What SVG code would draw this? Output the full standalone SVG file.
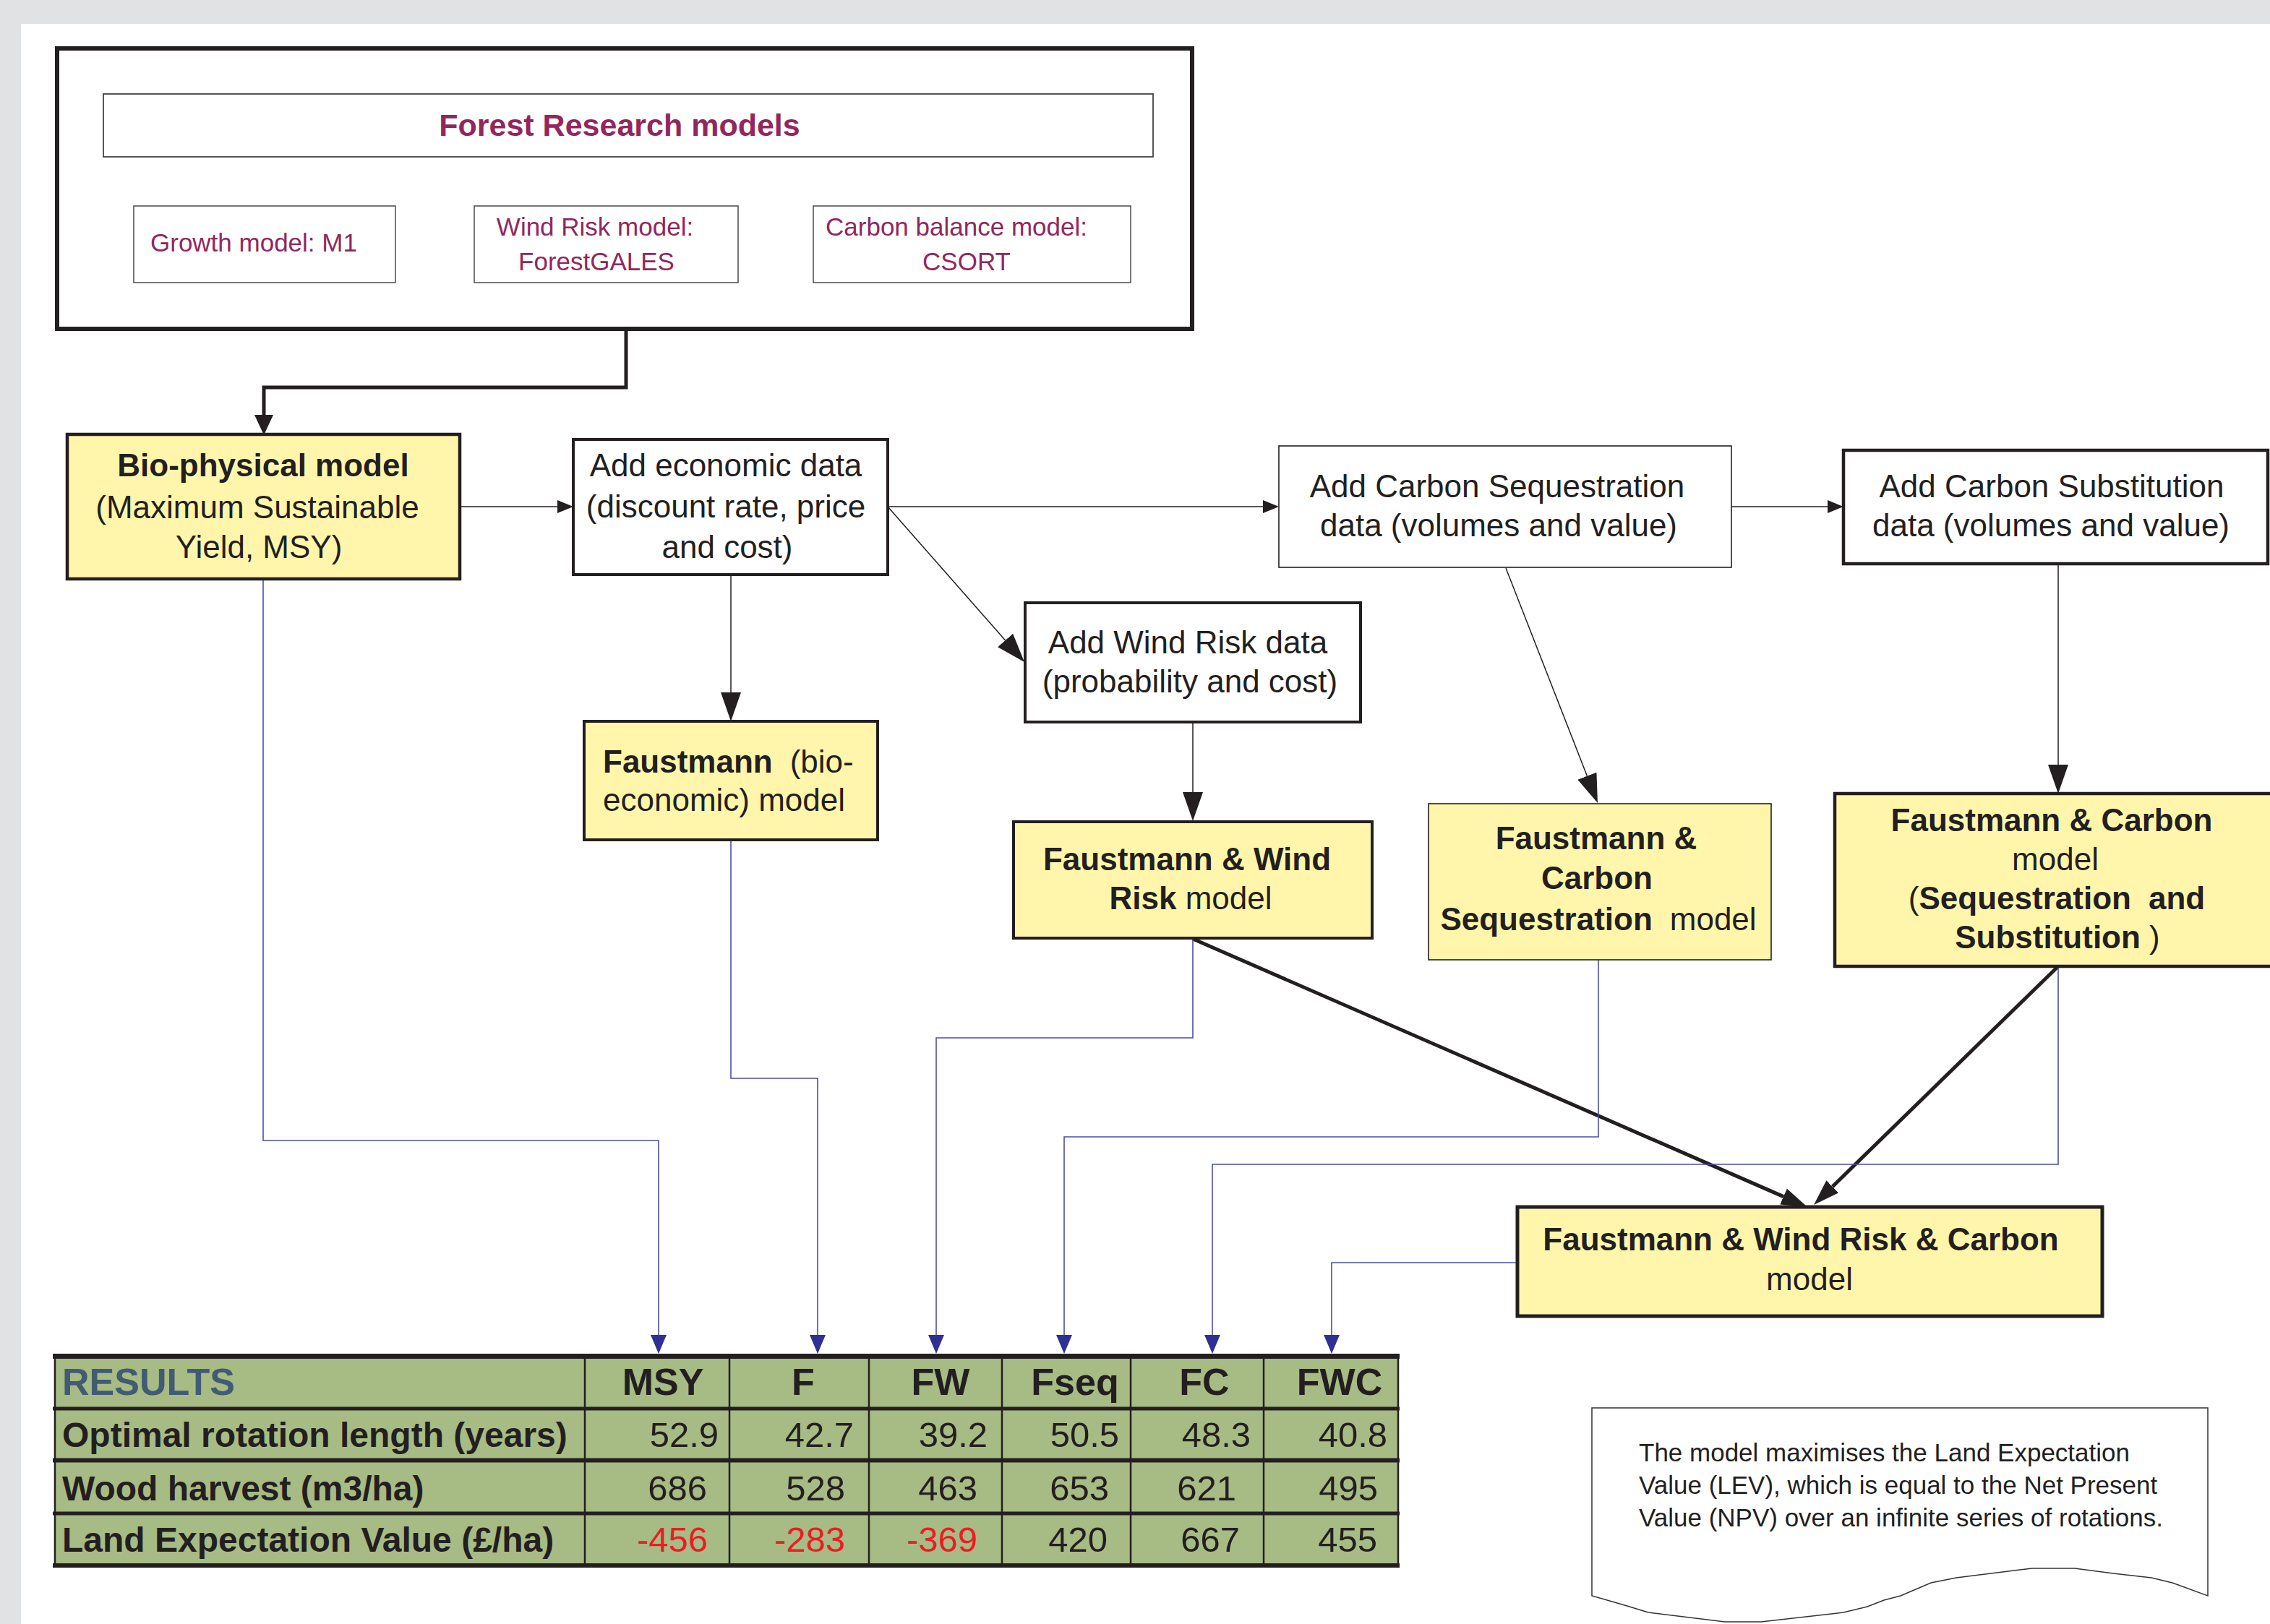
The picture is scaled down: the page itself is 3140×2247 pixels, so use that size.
<svg xmlns="http://www.w3.org/2000/svg" width="3140" height="2247" viewBox="0 0 3140 2247">
<style>
text{font-family:"Liberation Sans",Arial,Helvetica,sans-serif;fill:#231f20}
.b{font-weight:bold}
.n{font-weight:normal}
.s44{font-size:44px}
.mar{fill:#93275c}
.sub{font-size:35px}
.box{fill:#ffffff;stroke:#231f20}
.ybox{fill:#fff6ab;stroke:#231f20}
.thin{fill:none;stroke:#231f20;stroke-width:1.5}
.thick{fill:none;stroke:#231f20;stroke-width:5}
.blue{fill:none;stroke:#4a4fa8;stroke-width:1.6}
.th{font-size:52px;font-weight:bold}
.rl{font-size:48px;font-weight:bold}
.num{font-size:49px;text-anchor:end}
.red{fill:#ed1c24}
.note{font-size:35px}
</style>
<defs>
<marker id="as" markerUnits="userSpaceOnUse" markerWidth="22" markerHeight="18" refX="0" refY="9" orient="auto"><path d="M0,0 L22,9 L0,18 z" fill="#231f20"/></marker>
<marker id="al" markerUnits="userSpaceOnUse" markerWidth="40" markerHeight="28" refX="0" refY="14" orient="auto"><path d="M0,0 L40,14 L0,28 z" fill="#231f20"/></marker>
<marker id="at" markerUnits="userSpaceOnUse" markerWidth="36" markerHeight="24" refX="0" refY="12" orient="auto"><path d="M0,0 L36,12 L0,24 z" fill="#231f20"/></marker>
<marker id="ab" markerUnits="userSpaceOnUse" markerWidth="26" markerHeight="22" refX="0" refY="11" orient="auto"><path d="M0,0 L26,11 L0,22 z" fill="#2e3192"/></marker>
<marker id="am" markerUnits="userSpaceOnUse" markerWidth="28" markerHeight="26" refX="0" refY="13" orient="auto"><path d="M0,0 L28,13 L0,26 z" fill="#231f20"/></marker>
</defs>

<rect x="0" y="0" width="3140" height="2247" fill="#e1e2e4"/>
<rect x="29" y="33" width="3111" height="2214" fill="#ffffff"/>

<g id="forest-research">
<rect x="79" y="67" width="1570" height="388" fill="#ffffff" stroke="#231f20" stroke-width="6"/>
<rect x="143" y="130" width="1452" height="87" fill="#ffffff" stroke="#444" stroke-width="1.8"/>
<text x="857" y="188" class="b mar" font-size="43" text-anchor="middle">Forest Research models</text>
</g>
<g id="growth-model">
<rect x="185" y="285" width="362" height="106" fill="#ffffff" stroke="#555" stroke-width="1.6"/>
<text x="208" y="348" class="mar sub">Growth model: M1</text>
</g>
<g id="wind-risk-model">
<rect x="656" y="285" width="365" height="106" fill="#ffffff" stroke="#555" stroke-width="1.6"/>
<text x="823" y="326" class="mar sub" text-anchor="middle">Wind Risk model:</text>
<text x="825" y="374" class="mar sub" text-anchor="middle">ForestGALES</text>
</g>
<g id="carbon-balance-model">
<rect x="1125" y="285" width="439" height="106" fill="#ffffff" stroke="#555" stroke-width="1.6"/>
<text x="1323" y="326" class="mar sub" text-anchor="middle">Carbon balance model:</text>
<text x="1337" y="374" class="mar sub" text-anchor="middle">CSORT</text>
</g>

<g id="connectors">
<polyline class="thick" points="866,458 866,536 365,536 365,574" marker-end="url(#am)"/>
<line class="thin" x1="637" y1="701" x2="771" y2="701" marker-end="url(#as)"/>
<line class="thin" x1="1228" y1="701" x2="1747" y2="701" marker-end="url(#as)"/>
<line class="thin" x1="2395" y1="701" x2="2528" y2="701" marker-end="url(#as)"/>
<line class="thin" x1="1011" y1="795" x2="1011" y2="958" marker-end="url(#al)"/>
<line class="thin" x1="1228" y1="701" x2="1390.6" y2="886" marker-end="url(#al)"/>
<line class="thin" x1="1650" y1="999" x2="1650" y2="1096" marker-end="url(#al)"/>
<line class="thin" x1="2083" y1="786" x2="2195.4" y2="1073.7" marker-end="url(#al)"/>
<line class="thin" x1="2847" y1="780" x2="2847" y2="1058" marker-end="url(#al)"/>
<line class="thick" x1="1650" y1="1299" x2="2467" y2="1655.6" marker-end="url(#at)"/>
<line class="thick" stroke-width="4.5" x1="2847" y1="1337" x2="2534.8" y2="1641.9" marker-end="url(#at)"/>
<polyline class="blue" points="364,802 364,1578 911,1578 911,1847" marker-end="url(#ab)"/>
<polyline class="blue" points="1011,1163 1011,1492 1131,1492 1131,1847" marker-end="url(#ab)"/>
<polyline class="blue" points="1650,1299 1650,1436 1295,1436 1295,1847" marker-end="url(#ab)"/>
<polyline class="blue" points="2211,1328 2211,1573 1472,1573 1472,1847" marker-end="url(#ab)"/>
<polyline class="blue" points="2847,1338 2847,1611 1677,1611 1677,1847" marker-end="url(#ab)"/>
<polyline class="blue" points="2099,1747 1842,1747 1842,1847" marker-end="url(#ab)"/>
</g>

<g id="bio-physical">
<rect x="93" y="601" width="543" height="200" class="ybox" stroke-width="4.5"/>
<text x="364" y="659" class="b s44" text-anchor="middle">Bio-physical model</text>
<text x="356" y="717" class="s44" text-anchor="middle">(Maximum Sustainable</text>
<text x="358" y="772" class="s44" text-anchor="middle">Yield, MSY)</text>
</g>
<g id="add-economic">
<rect x="793" y="608" width="435" height="187" class="box" stroke-width="4"/>
<text x="1004" y="659" class="s44" text-anchor="middle">Add economic data</text>
<text x="1004" y="716" class="s44" text-anchor="middle">(discount rate, price</text>
<text x="1006" y="772" class="s44" text-anchor="middle">and cost)</text>
</g>
<g id="add-carbon-sequestration">
<rect x="1769" y="617" width="626" height="168" class="box" stroke-width="1.6"/>
<text x="2071" y="688" class="s44" text-anchor="middle">Add Carbon Sequestration</text>
<text x="2073" y="742" class="s44" text-anchor="middle">data (volumes and value)</text>
</g>
<g id="add-carbon-substitution">
<rect x="2550" y="623" width="587" height="157" class="box" stroke-width="4.5"/>
<text x="2838" y="688" class="s44" text-anchor="middle">Add Carbon Substitution</text>
<text x="2837" y="742" class="s44" text-anchor="middle">data (volumes and value)</text>
</g>
<g id="add-wind-risk">
<rect x="1418" y="834" width="464" height="165" class="box" stroke-width="4"/>
<text x="1643" y="904" class="s44" text-anchor="middle">Add Wind Risk data</text>
<text x="1646" y="958" class="s44" text-anchor="middle">(probability and cost)</text>
</g>
<g id="faustmann">
<rect x="808" y="998" width="406" height="164" class="ybox" stroke-width="4"/>
<text x="834" y="1069" class="s44"><tspan class="b">Faustmann</tspan><tspan dx="24">(bio-</tspan></text>
<text x="834" y="1122" class="s44">economic) model</text>
</g>
<g id="faustmann-wind">
<rect x="1402" y="1137" width="496" height="161" class="ybox" stroke-width="4"/>
<text x="1642" y="1204" class="b s44" text-anchor="middle">Faustmann &amp; Wind</text>
<text x="1647" y="1258" class="s44" text-anchor="middle"><tspan class="b">Risk</tspan> model</text>
</g>
<g id="faustmann-carbon-sequestration">
<rect x="1976" y="1112" width="474" height="216" class="ybox" stroke-width="1.6"/>
<text x="2208" y="1175" class="b s44" text-anchor="middle">Faustmann &amp;</text>
<text x="2209" y="1230" class="b s44" text-anchor="middle">Carbon</text>
<text x="2211" y="1287" class="s44" text-anchor="middle"><tspan class="b">Sequestration</tspan><tspan dx="24">model</tspan></text>
</g>
<g id="faustmann-carbon">
<rect x="2538" y="1098" width="700" height="239" class="ybox" stroke-width="4.5"/>
<text x="2838" y="1150" class="b s44" text-anchor="middle">Faustmann &amp; Carbon</text>
<text x="2843" y="1204" class="s44" text-anchor="middle">model</text>
<text x="2845" y="1258" class="s44" text-anchor="middle">(<tspan class="b">Sequestration</tspan><tspan class="b" dx="24">and</tspan></text>
<text x="2846" y="1312" class="s44" text-anchor="middle"><tspan class="b">Substitution</tspan> )</text>
</g>
<g id="faustmann-wind-carbon">
<rect x="2099" y="1670" width="809" height="151" class="ybox" stroke-width="5"/>
<text x="2491" y="1730" class="b s44" text-anchor="middle">Faustmann &amp; Wind Risk &amp; Carbon</text>
<text x="2503" y="1785" class="s44" text-anchor="middle">model</text>
</g>

<g id="results-table">
<rect x="75" y="1876" width="1860" height="290" fill="#a7bb84"/>
<g stroke="#231f20" stroke-width="2.5">
<line x1="76" y1="1876" x2="76" y2="2166"/>
<line x1="809" y1="1876" x2="809" y2="2166"/>
<line x1="1009" y1="1876" x2="1009" y2="2166"/>
<line x1="1202" y1="1876" x2="1202" y2="2166"/>
<line x1="1386" y1="1876" x2="1386" y2="2166"/>
<line x1="1564" y1="1876" x2="1564" y2="2166"/>
<line x1="1748" y1="1876" x2="1748" y2="2166"/>
<line x1="1934" y1="1876" x2="1934" y2="2166"/>
</g>
<g stroke="#231f20">
<line x1="73" y1="1876.5" x2="1936" y2="1876.5" stroke-width="7"/>
<line x1="73" y1="1949" x2="1936" y2="1949" stroke-width="5"/>
<line x1="73" y1="2020.5" x2="1936" y2="2020.5" stroke-width="6"/>
<line x1="73" y1="2094" x2="1936" y2="2094" stroke-width="5"/>
<line x1="73" y1="2166" x2="1936" y2="2166" stroke-width="6"/>
</g>
<text x="86" y="1930" class="th" style="fill:#415b74">RESULTS</text>
<text x="917" y="1930" class="th" text-anchor="middle">MSY</text>
<text x="1111" y="1930" class="th" text-anchor="middle">F</text>
<text x="1301" y="1930" class="th" text-anchor="middle">FW</text>
<text x="1487" y="1930" class="th" text-anchor="middle">Fseq</text>
<text x="1666" y="1930" class="th" text-anchor="middle">FC</text>
<text x="1853" y="1930" class="th" text-anchor="middle">FWC</text>
<text x="86" y="2002" class="rl">Optimal rotation length (years)</text>
<text x="86" y="2076" class="rl">Wood harvest (m3/ha)</text>
<text x="86" y="2147" class="rl">Land Expectation Value (£/ha)</text>
<text x="994" y="2002" class="num">52.9</text>
<text x="1181" y="2002" class="num">42.7</text>
<text x="1366" y="2002" class="num">39.2</text>
<text x="1548" y="2002" class="num">50.5</text>
<text x="1730" y="2002" class="num">48.3</text>
<text x="1919" y="2002" class="num">40.8</text>
<text x="978" y="2076" class="num">686</text>
<text x="1169" y="2076" class="num">528</text>
<text x="1352" y="2076" class="num">463</text>
<text x="1534" y="2076" class="num">653</text>
<text x="1710" y="2076" class="num">621</text>
<text x="1906" y="2076" class="num">495</text>
<text x="979" y="2147" class="num red">-456</text>
<text x="1169" y="2147" class="num red">-283</text>
<text x="1352" y="2147" class="num red">-369</text>
<text x="1532" y="2147" class="num">420</text>
<text x="1715" y="2147" class="num">667</text>
<text x="1905" y="2147" class="num">455</text>
</g>

<g id="note">
<path d="M2202,2208 L2202,1948 L3054,1948 L3054,2208 L3005,2190 L2976,2183 L2923,2177 L2870,2170 L2811,2170 L2706,2183 L2671,2190 L2629,2208 L2606,2214 L2583,2223 L2550,2231 L2436,2244 L2386,2244 L2280,2231 L2254,2223 L2230,2216 Z" fill="#ffffff" stroke="#333" stroke-width="1.5"/>
<text x="2267" y="2022" class="note">The model maximises the Land Expectation</text>
<text x="2267" y="2067" class="note">Value (LEV), which is equal to the Net Present</text>
<text x="2267" y="2112" class="note">Value (NPV) over an infinite series of rotations.</text>
</g>
</svg>
